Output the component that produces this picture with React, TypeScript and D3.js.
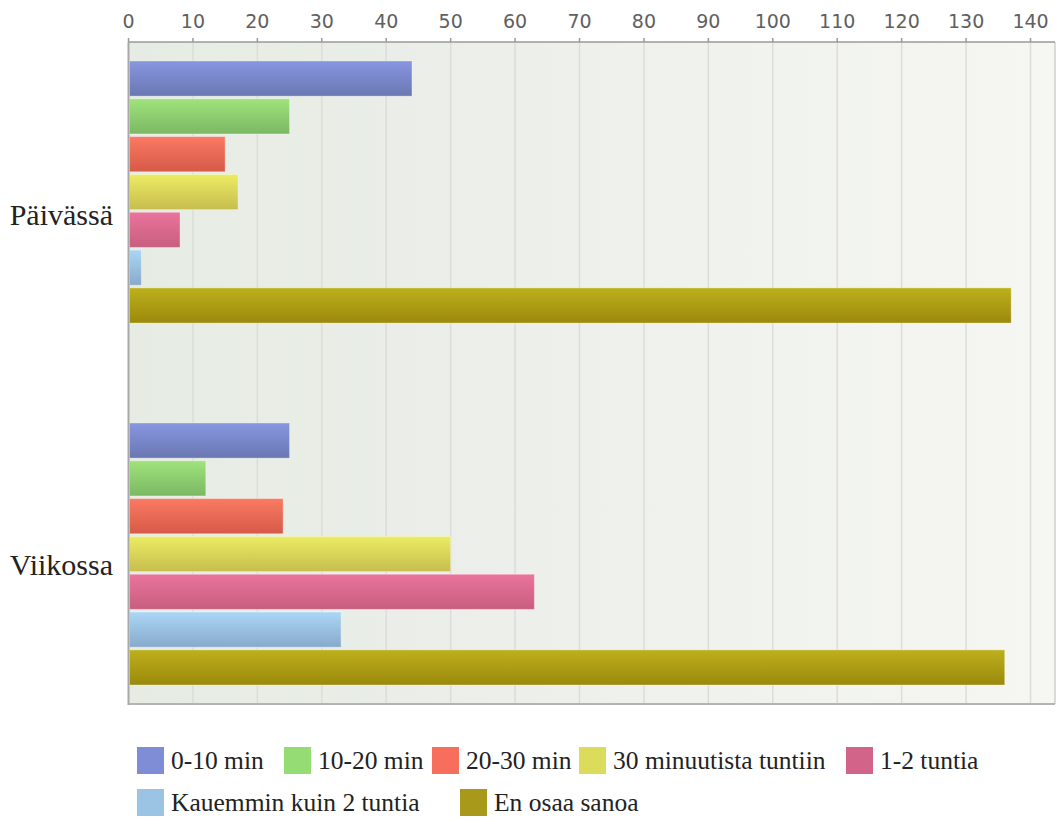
import React from "react";
import * as d3 from "d3";

const categories = ["Päivässä", "Viikossa"];
const seriesNames = [
  "0-10 min",
  "10-20 min",
  "20-30 min",
  "30 minuutista tuntiin",
  "1-2 tuntia",
  "Kauemmin kuin 2 tuntia",
  "En osaa sanoa",
];
const paivassa = [44, 25, 15, 17, 8, 2, 137];
const viikossa = [25, 12, 24, 50, 63, 33, 136];
const xTicks = [0, 10, 20, 30, 40, 50, 60, 70, 80, 90, 100, 110, 120, 130, 140];

const topColors = ["#8797e0", "#a0e37c", "#fa7a63", "#ecec64", "#ea749c", "#aad6f6", "#bdb01c"];
const bottomColors = ["#6a77b2", "#7bb863", "#d65a48", "#c6bd4e", "#c85e80", "#88aacb", "#9a890b"];
const legendColors = ["#7f8cd6", "#96dc75", "#f76e5c", "#dcdc5c", "#d2648a", "#9bc4e4", "#a8991a"];

// legend layout (row, x of swatch)
const legendLayout = [
  [0, 137], [0, 284], [0, 432], [0, 579], [0, 846],
  [1, 137], [1, 460],
];

const W = 1057;
const H = 818;
const plot = { left: 128.5, right: 1055, top: 42, bottom: 704 };

export default function App() {
  const values = [paivassa, viikossa];
  const x = d3.scaleLinear().domain([0, 143.8]).range([plot.left, plot.right]);
  const yGroup = d3
    .scaleBand<string>()
    .domain(categories)
    .range([plot.top, plot.bottom])
    .paddingInner(0.276)
    .paddingOuter(0.0524);
  const yBar = d3
    .scaleBand<string>()
    .domain(seriesNames)
    .range([0, yGroup.bandwidth()])
    .paddingInner(0.07)
    .paddingOuter(0);
  const yLabel = d3.scaleBand<string>().domain(categories).range([39, 739]);

  return (
    <svg
      width={W}
      height={H}
      style={{ position: "absolute", left: 0, top: 0, background: "#fff" }}
    >
      <defs>
        <linearGradient id="bg" x1="0" x2="1" y1="0" y2="0">
          <stop offset="0" stopColor="#e6ece3" />
          <stop offset="0.35" stopColor="#ebeee9" />
          <stop offset="0.7" stopColor="#f1f3ee" />
          <stop offset="1" stopColor="#f6f6f3" />
        </linearGradient>
        {seriesNames.map((s, i) => (
          <linearGradient key={s} id={`g${i}`} x1="0" x2="0" y1="0" y2="1">
            <stop offset="0" stopColor={topColors[i]} />
            <stop offset="1" stopColor={bottomColors[i]} />
          </linearGradient>
        ))}
      </defs>

      {/* plot background */}
      <rect
        x={plot.left}
        y={plot.top}
        width={plot.right - plot.left}
        height={plot.bottom - plot.top}
        fill="url(#bg)"
      />

      {/* gridlines */}
      {xTicks.slice(1).map((t) => (
        <line
          key={t}
          x1={x(t)}
          x2={x(t)}
          y1={plot.top}
          y2={plot.bottom}
          stroke="#dadedb"
          strokeWidth={1.5}
        />
      ))}

      {/* bars */}
      {categories.map((c, ci) => (
        <g key={c} transform={`translate(0,${yGroup(c)})`}>
          {seriesNames.map((s, si) => (
            <rect
              key={s}
              x={x(0) + 1}
              y={yBar(s)}
              width={x(values[ci][si]) - x(0) - 1}
              height={yBar.bandwidth()}
              fill={`url(#g${si})`}
              stroke="rgba(255,255,255,0.35)"
              strokeWidth={1}
            />
          ))}
        </g>
      ))}

      {/* frame */}
      <line x1={plot.right} x2={plot.right} y1={plot.top} y2={plot.bottom} stroke="#cfcfcf" strokeWidth={1.5} />
      <line x1={plot.left} x2={plot.right} y1={plot.bottom} y2={plot.bottom} stroke="#b4b4b4" strokeWidth={2} />
      <line x1={plot.left} x2={plot.left} y1={plot.top} y2={plot.bottom + 1} stroke="#a8a8a8" strokeWidth={2} />
      <line x1={plot.left} x2={plot.right} y1={plot.top} y2={plot.top} stroke="#9a9a9a" strokeWidth={1.5} />

      {/* top axis */}
      {xTicks.map((t) => (
        <g key={t}>
          <line x1={x(t)} x2={x(t)} y1={plot.top - 4} y2={plot.top} stroke="#9a9a9a" strokeWidth={1.5} />
          <text
            x={x(t)}
            y={28}
            textAnchor="middle"
            fontFamily="DejaVu Sans"
            fontSize={19}
            fill="#606060"
          >
            {t}
          </text>
        </g>
      ))}

      {/* category labels */}
      {categories.map((c) => (
        <text
          key={c}
          x={113}
          y={(yLabel(c) as number) + yLabel.bandwidth() / 2 + 11}
          textAnchor="end"
          fontFamily="Liberation Serif"
          fontSize={30}
          fill="#222"
        >
          {c}
        </text>
      ))}

      {/* legend */}
      {seriesNames.map((s, i) => {
        const [row, lx] = legendLayout[i];
        const sy = row === 0 ? 747 : 789;
        return (
          <g key={s}>
            <rect x={lx} y={sy} width={27} height={27} fill={legendColors[i]} />
            <text
              x={lx + 34}
              y={sy + 22}
              fontFamily="Liberation Serif"
              fontSize={25.5}
              fill="#222"
            >
              {s}
            </text>
          </g>
        );
      })}
    </svg>
  );
}
